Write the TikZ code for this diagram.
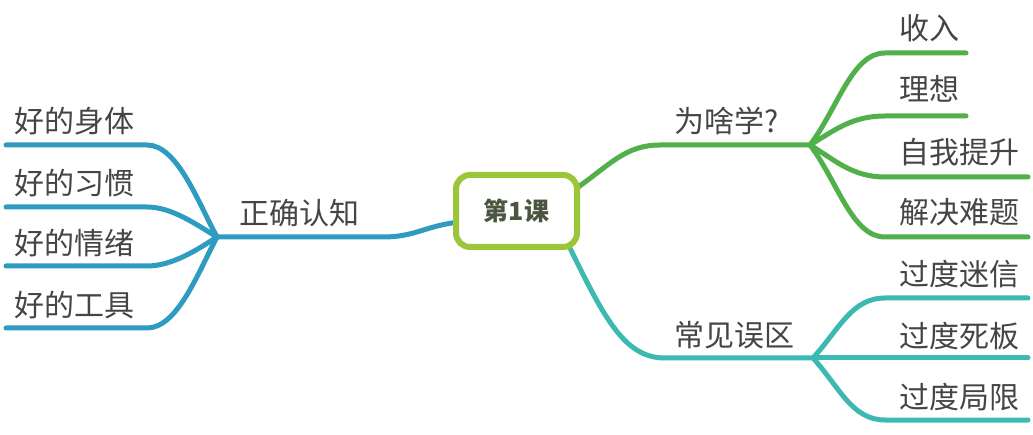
\documentclass[tikz,border=0pt]{standalone}
\usepackage{fontspec}
\setmainfont{Noto Sans CJK SC}
\usetikzlibrary{backgrounds}
\definecolor{rootrim}{HTML}{9CC63A}
\definecolor{roottext}{HTML}{4B5640}
\definecolor{leftblue}{HTML}{2E9BC1}
\definecolor{topgreen}{HTML}{52B04A}
\definecolor{lowteal}{HTML}{3CBAB2}
\definecolor{labelgray}{HTML}{454545}
\tikzset{
  branch/.style={line width=5pt, line cap=round, line join=round},
  lbl/.style={anchor=west, inner sep=0pt, text=labelgray, font=\fontsize{30}{31}\selectfont},
  rootbox/.style={draw=rootrim, line width=6pt, rounded corners=14pt, fill=white,
    minimum width=121pt, minimum height=72pt, inner sep=0pt,
    text=roottext, font=\fontsize{25}{26}\selectfont\bfseries},
}
\begin{document}
\begin{tikzpicture}[x=1pt, y=-1pt]
\useasboundingbox (0,0) rectangle (1033,435);

% central topic
\node[rootbox] (root) at (516.5,211) {第1课};

% topic labels
\node[lbl] (zqrz) at (239,213) {正确认知};
\node[lbl] (whx)  at (674,121) {为啥学?};
\node[lbl] (cjwq) at (674,335) {常见误区};

% left leaves
\node[lbl] (l1) at (14,121) {好的身体};
\node[lbl] (l2) at (14,183) {好的习惯};
\node[lbl] (l3) at (14,243) {好的情绪};
\node[lbl] (l4) at (14,305) {好的工具};

% upper right leaves
\node[lbl] (r1) at (899,28)  {收入};
\node[lbl] (r2) at (899,89)  {理想};
\node[lbl] (r3) at (899,152) {自我提升};
\node[lbl] (r4) at (899,212) {解决难题};

% lower right leaves
\node[lbl] (r5) at (899,274) {过度迷信};
\node[lbl] (r6) at (899,336) {过度死板};
\node[lbl] (r7) at (899,397) {过度局限};

% hubs and line ends
\coordinate (hl) at (217,237);
\coordinate (hg) at (810,145);
\coordinate (ht) at (813,358);

\coordinate (e1) at (6,145);
\coordinate (e2) at (6,207);
\coordinate (e3) at (6,266);
\coordinate (e4) at (6,328);

\coordinate (f1) at (966,53);
\coordinate (f2) at (966,116);
\coordinate (f3) at (1028,177);
\coordinate (f4) at (1028,237);
\coordinate (f5) at (1028,298);
\coordinate (f6) at (1028,358);
\coordinate (f7) at (1028,420);

\begin{scope}[on background layer]
  % left branch
  \draw[branch, leftblue] ([xshift=6pt,yshift=-11pt]root.west)
    .. controls (425,226) and (415,237) .. (383,237) -- (hl);
  \draw[branch, leftblue] (hl) .. controls (197,200) and (177,145) .. (147,145) -- (e1);
  \draw[branch, leftblue] (hl) .. controls (197,225) and (172,207) .. (147,207) -- (e2);
  \draw[branch, leftblue] (hl) .. controls (197,250) and (172,266) .. (147,266) -- (e3);
  \draw[branch, leftblue] (hl) .. controls (197,275) and (177,328) .. (147,328) -- (e4);

  % upper right branch
  \draw[branch, topgreen] ([xshift=-6pt,yshift=-18pt]root.north east)
    .. controls (610,165) and (625,145) .. (660,145) -- (hg);
  \draw[branch, topgreen] (hg) .. controls (838,108) and (852,53) .. (885,53) -- (f1);
  \draw[branch, topgreen] (hg) .. controls (835,130) and (852,116) .. (885,116) -- (f2);
  \draw[branch, topgreen] (hg) .. controls (835,160) and (852,177) .. (885,177) -- (f3);
  \draw[branch, topgreen] (hg) .. controls (838,182) and (852,237) .. (885,237) -- (f4);

  % lower right branch
  \draw[branch, lowteal] ([xshift=-12pt,yshift=6pt]root.south east)
    .. controls (605,320) and (625,358) .. (665,358) -- (ht);
  \draw[branch, lowteal] (ht) .. controls (840,328) and (852,298) .. (885,298) -- (f5);
  \draw[branch, lowteal] (ht) -- (f6);
  \draw[branch, lowteal] (ht) .. controls (840,388) and (852,420) .. (885,420) -- (f7);
\end{scope}
\end{tikzpicture}
\end{document}
